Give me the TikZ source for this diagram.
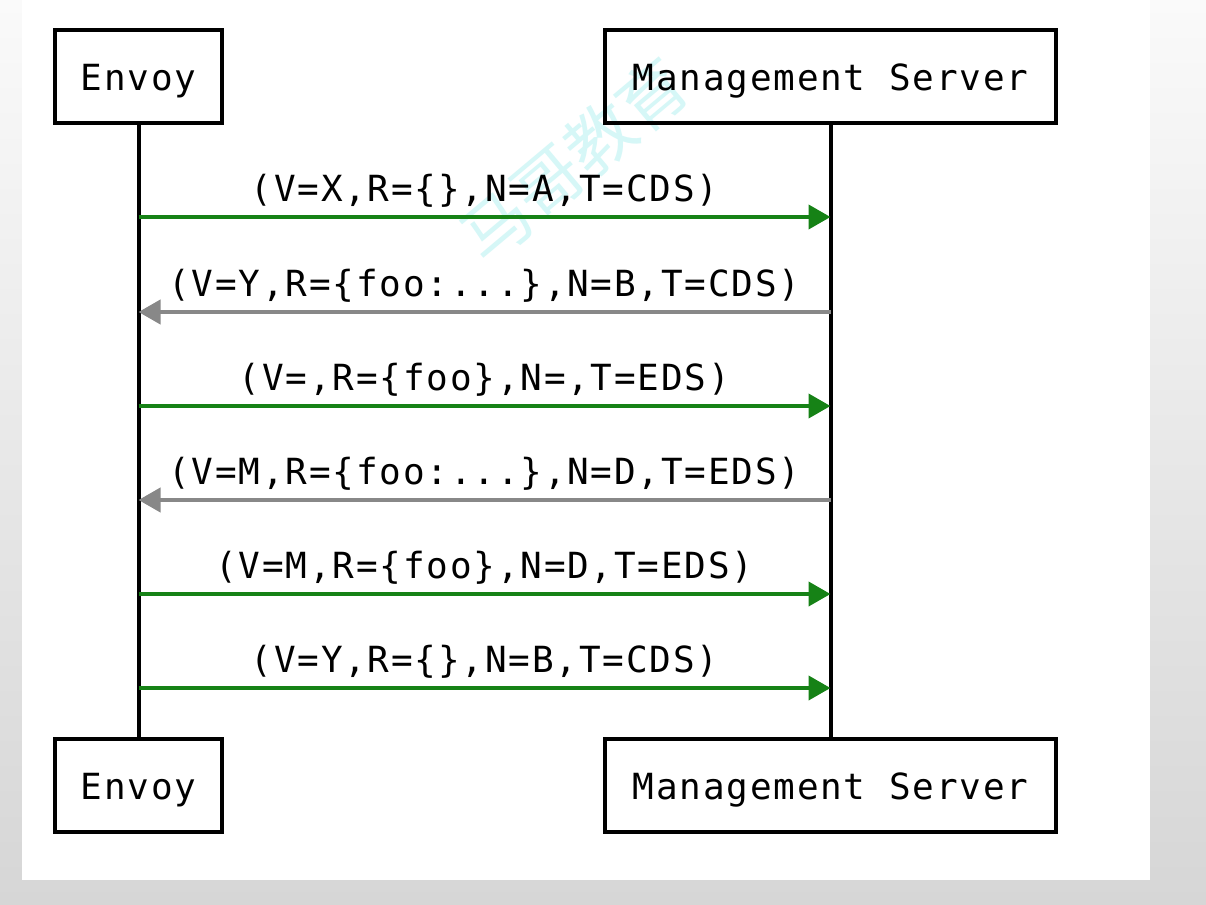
\documentclass[tikz,border=0pt]{standalone}
\usepackage{fontspec}
\setmonofont{DejaVu Sans Mono}[LetterSpace=5]
\newfontfamily\cjk{Noto Sans CJK SC}
\usetikzlibrary{arrows.meta}
\definecolor{msggreen}{RGB}{22,130,22}
\definecolor{msggray}{RGB}{136,136,136}
\definecolor{wmark}{RGB}{214,247,247}
\definecolor{bgtop}{RGB}{250,250,250}
\definecolor{bgbot}{RGB}{214,214,214}
\tikzset{
  actor/.style={draw=black, line width=4pt, inner sep=0pt,
    minimum height=93pt, text height=29pt, text depth=0pt,
    font=\ttfamily\fontsize{36pt}{40pt}\selectfont},
  lifeline/.style={draw=black, line width=4pt},
  req/.style={draw=msggreen, line width=4pt, -{Triangle[length=22pt,width=24pt]}},
  resp/.style={draw=msggray, line width=4pt, -{Triangle[length=22pt,width=24pt]}},
  msglabel/.style={anchor=base, inner sep=0pt, yshift=16pt,
    font=\ttfamily\fontsize{36pt}{40pt}\selectfont}
}
\begin{document}
\begin{tikzpicture}[x=1pt,y=-1pt]
\useasboundingbox (0,0) rectangle (1206,904);
\shade[top color=bgtop, bottom color=bgbot] (0,0) rectangle (1206,904);
\fill[white] (22,0) rectangle (1150,880);
% watermark (behind everything else)
\node[text=wmark, rotate=40, font=\cjk\fontsize{68pt}{70pt}\selectfont, inner sep=0pt] (wm) at (574,160) {马哥教育};
% actors
\node[actor, minimum width=167pt] (e1) at (138.5,76.5) {Envoy};
\node[actor, minimum width=451pt] (m1) at (830.5,76.5) {Management Server};
\node[actor, minimum width=167pt] (e2) at (138.5,785) {Envoy};
\node[actor, minimum width=451pt] (m2) at (830.5,785) {Management Server};
\draw[lifeline] (e1.south) -- (e2.north);
\draw[lifeline] (m1.south) -- (m2.north);
% message endpoints
\foreach \i/\y in {1/217,2/312,3/406,4/500,5/594,6/688}{
  \coordinate (l\i) at (138.5,\y);
  \coordinate (r\i) at (830.5,\y);
}
\draw[req] (l1) -- node[msglabel] {(V=X,R=\{\},N=A,T=CDS)} (r1);
\draw[resp] (r2) -- node[msglabel] {(V=Y,R=\{foo:...\},N=B,T=CDS)} (l2);
\draw[req] (l3) -- node[msglabel] {(V=,R=\{foo\},N=,T=EDS)} (r3);
\draw[resp] (r4) -- node[msglabel] {(V=M,R=\{foo:...\},N=D,T=EDS)} (l4);
\draw[req] (l5) -- node[msglabel] {(V=M,R=\{foo\},N=D,T=EDS)} (r5);
\draw[req] (l6) -- node[msglabel] {(V=Y,R=\{\},N=B,T=CDS)} (r6);
\end{tikzpicture}
\end{document}
